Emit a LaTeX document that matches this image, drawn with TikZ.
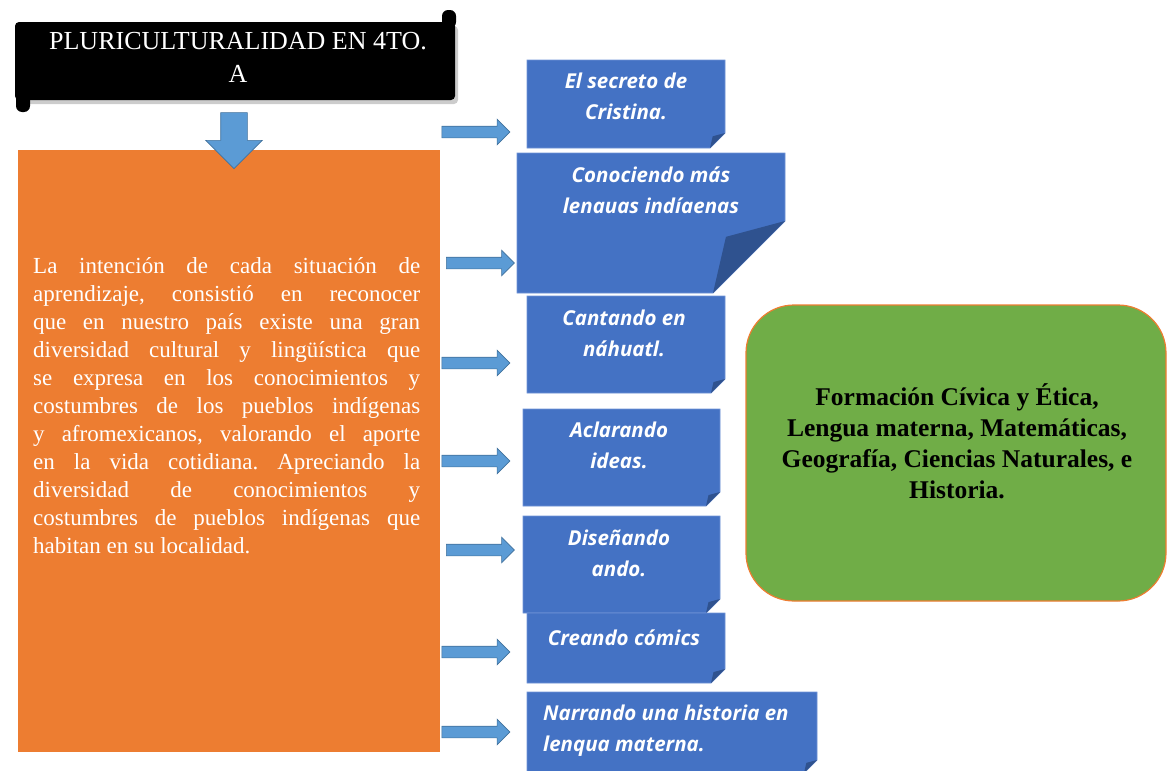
\documentclass[tikz,border=0pt]{standalone}
\usepackage{fontspec}
\setmainfont{Liberation Serif}
\newfontfamily\boxfont{Open Sans}
\usetikzlibrary{shapes.arrows}
\definecolor{orangebg}{HTML}{ED7D31}
\definecolor{boxblue}{HTML}{4472C4}
\definecolor{boxedge}{HTML}{6F93D6}
\definecolor{folddark}{HTML}{2F528F}
\definecolor{arrowblue}{HTML}{5B9BD5}
\definecolor{arrowedge}{HTML}{41719C}
\definecolor{greenbg}{HTML}{70AD47}
\newcommand\notebox[5]{%
  \fill[boxblue, draw=boxedge, line width=0.8pt] (#1,#2) -- (#3,#2) -- (#3,{#4-#5}) -- ({#3-#5},#4) -- (#1,#4) -- cycle;
  \fill[folddark] (#3,{#4-#5}) -- ({#3-#5},#4) -- ({#3-0.82*#5},{#4-0.78*#5}) -- cycle;}
\newcommand\jl[1]{\leavevmode\hbox to 387pt{\strut #1}}
\begin{document}
\begin{tikzpicture}[x=1pt,y=-1pt,
  harrow/.style={single arrow, fill=arrowblue, draw=arrowedge, line width=0.6pt,
    inner xsep=0pt, inner ysep=5.5pt, single arrow head extend=7pt, minimum height=68pt},
  notetext/.style={font=\boxfont\bfseries\itshape\fontsize{20.5}{31}\selectfont,
    text=white, inner sep=0pt, align=center, anchor=north},
  bodytext/.style={font=\fontsize{23}{28}\selectfont, text=white, inner sep=0pt,
    align=left, anchor=north west},
  titletext/.style={font=\fontsize{26}{33}\selectfont, text=white, inner sep=0pt,
    align=center, anchor=north},
  subjtext/.style={font=\bfseries\fontsize{25.5}{31}\selectfont, text=black, inner sep=0pt,
    align=center, anchor=north}]
\useasboundingbox (0,0) rectangle (1168,771);
% title banner
\begin{scope}[shift={(3,4)}]
  \fill[black!40, opacity=0.5, rounded corners=4pt] (15,22) rectangle (455,100);
\end{scope}
\fill[black, rounded corners=6pt] (442,10) rectangle (456,28);
\fill[black, rounded corners=6pt] (16,94) rectangle (30,112);
\fill[black, rounded corners=4pt] (15,22) rectangle (455,100);
\node[titletext] (title) at (238,26) {\strut PLURICULTURALIDAD EN 4TO.\\A};
% orange body
\node[fill=orangebg, minimum width=422pt, minimum height=602pt, inner sep=0pt,
  anchor=north west] (body) at (18,150) {};
\node[bodytext] (bodytxt) at (33,253.4) {%
\jl{La\hfill intención\hfill de\hfill cada\hfill situación\hfill de}\\
\jl{aprendizaje,\hfill consistió\hfill en\hfill reconocer}\\
\jl{que\hfill en\hfill nuestro\hfill país\hfill existe\hfill una\hfill gran}\\
\jl{diversidad\hfill cultural\hfill y\hfill lingüística\hfill que}\\
\jl{se\hfill expresa\hfill en\hfill los\hfill conocimientos\hfill y}\\
\jl{costumbres\hfill de\hfill los\hfill pueblos\hfill indígenas}\\
\jl{y\hfill afromexicanos,\hfill valorando\hfill el\hfill aporte}\\
\jl{en\hfill la\hfill vida\hfill cotidiana.\hfill Apreciando\hfill la}\\
\jl{diversidad\hfill de\hfill conocimientos\hfill y}\\
\jl{costumbres\hfill de\hfill pueblos\hfill indígenas\hfill que}\\
\strut habitan en su localidad.};
% down arrow
\node[single arrow, fill=arrowblue, draw=arrowedge, line width=0.6pt, rotate=-90,
  inner xsep=0pt, inner ysep=13pt, single arrow head extend=15pt, minimum height=56pt]
  (down) at (234,134) {};
% blue note boxes
\notebox{527}{60}{725}{148}{15}
\notebox{517}{153}{785}{293}{72}
\notebox{527}{296}{725}{393}{14}
\notebox{523}{409}{720}{506}{14}
\notebox{523}{516}{720}{613}{14}
\notebox{527}{613}{725}{683}{14}
\notebox{527}{692}{817}{773}{13}
\node[notetext] (n1) at (626,66.3) {\strut El secreto de\\Cristina.};
\node[notetext] (n2) at (651,160.3) {\strut Conociendo más\\lenauas indíaenas};
\node[notetext] (n3) at (624,303.3) {\strut Cantando en\\náhuatl.};
\node[notetext] (n4) at (619,415.3) {\strut Aclarando\\ideas.};
\node[notetext] (n5) at (619,523.3) {\strut Diseñando\\ando.};
\node[notetext] (n6) at (624,623.3) {\strut Creando cómics};
\node[notetext, align=left, anchor=north west] (n7) at (543,698.3) {\strut Narrando una historia en\\lenqua materna.};
% side arrows
\node[harrow] (a1) at (473,132) {};
\node[harrow] (a2) at (477.5,263) {};
\node[harrow] (a3) at (473,363) {};
\node[harrow] (a4) at (473,461) {};
\node[harrow] (a5) at (477.5,550) {};
\node[harrow] (a6) at (473,652) {};
\node[harrow] (a7) at (473,732) {};
% green subjects box
\node[fill=greenbg, draw=orangebg, line width=1.2pt, rounded corners=48pt,
  minimum width=420pt, minimum height=296pt, inner sep=0pt] (subj) at (956,453) {};
\node[subjtext] (subjtxt) at (957,383.3) {\strut Formación Cívica y Ética,\\Lengua materna, Matemáticas,\\Geografía, Ciencias Naturales, e\\Historia.};
\end{tikzpicture}
\end{document}
